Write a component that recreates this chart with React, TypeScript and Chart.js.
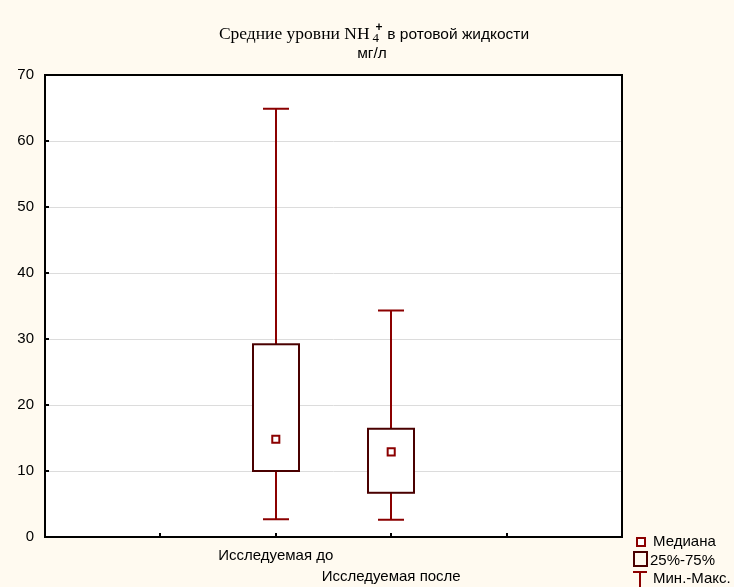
import React, { useEffect, useRef } from "react";
import { Chart, registerables } from "chart.js";

Chart.register(...registerables);

const categories = ["Исследуемая до", "Исследуемая после"];
const positions = [2, 3];
const medians = [14.8, 12.9];
const q1 = [10.0, 6.7];
const q3 = [29.2, 16.4];
const mins = [2.7, 2.6];
const maxs = [64.9, 34.3];
const yTicks = [0, 10, 20, 30, 40, 50, 60, 70];
const legendLabels = ["Медиана", "25%-75%", "Мин.-Макс."];

const WHISKER = "#8B0000";
const BOXC = "#4A0000";
const BG = "#FFFAF0";
const SANS = "'Liberation Sans', Arial, sans-serif";

const boxPlugin = {
  id: "boxPlugin",
  beforeDatasetsDraw(chart: any) {
    const { ctx, scales } = chart;
    const xs = scales.x;
    const ys = scales.y;
    ctx.save();
    for (let i = 0; i < positions.length; i++) {
      const cx = Math.round(xs.getPixelForValue(positions[i]));
      const yMax = ys.getPixelForValue(maxs[i]);
      const yMin = ys.getPixelForValue(mins[i]);
      const yQ1 = ys.getPixelForValue(q1[i]);
      const yQ3 = ys.getPixelForValue(q3[i]);
      ctx.strokeStyle = WHISKER;
      ctx.lineWidth = 2;
      ctx.beginPath();
      ctx.moveTo(cx, yMax);
      ctx.lineTo(cx, yQ3);
      ctx.moveTo(cx, yQ1);
      ctx.lineTo(cx, yMin);
      ctx.moveTo(cx - 13, yMax);
      ctx.lineTo(cx + 13, yMax);
      ctx.moveTo(cx - 13, yMin);
      ctx.lineTo(cx + 13, yMin);
      ctx.stroke();
      ctx.fillStyle = "#ffffff";
      ctx.fillRect(cx - 23, yQ3, 46, yQ1 - yQ3);
      ctx.strokeStyle = BOXC;
      ctx.lineWidth = 2;
      ctx.strokeRect(cx - 23, yQ3, 46, yQ1 - yQ3);
    }
    ctx.restore();
  },
  afterDraw(chart: any) {
    const { ctx, chartArea, scales } = chart;
    const { left, right, top, bottom } = chartArea;
    ctx.save();
    ctx.strokeStyle = "#000";
    ctx.lineWidth = 2;
    ctx.strokeRect(left, top, right - left, bottom - top);
    ctx.beginPath();
    for (const v of yTicks) {
      const y = Math.round(scales.y.getPixelForValue(v));
      ctx.moveTo(left, y);
      ctx.lineTo(left + 4, y);
    }
    for (let v = 1; v <= 4; v++) {
      const x = Math.round(scales.x.getPixelForValue(v));
      ctx.moveTo(x, bottom);
      ctx.lineTo(x, bottom - 4);
    }
    ctx.stroke();

    // title
    const cx = 374;
    const p1 = "Средние уровни NH";
    const p2 = "4";
    const p3 = "+";
    const p4 = " в ротовой жидкости";
    const f1 = "17.5px 'Liberation Serif', 'Times New Roman', serif";
    const fs = "13px 'Liberation Serif', 'Times New Roman', serif";
    const f4 = "15.5px " + SANS;
    ctx.font = f1;
    const w1 = ctx.measureText(p1).width;
    ctx.font = fs;
    const w2 = ctx.measureText(p2).width;
    ctx.font = f4;
    const w4 = ctx.measureText(p4).width;
    const total = w1 + 3 + w2 + 4 + w4;
    let x = cx - total / 2;
    const base = 39;
    ctx.fillStyle = "#000";
    ctx.textAlign = "left";
    ctx.textBaseline = "alphabetic";
    ctx.font = f1;
    ctx.fillText(p1, x, base);
    x += w1 + 3;
    ctx.font = fs;
    ctx.fillText(p2, x, base + 3);
    ctx.font = "bold 12px " + SANS;
    ctx.fillText(p3, x + 3, base - 8);
    x += w2 + 4;
    ctx.font = f4;
    ctx.fillText(p4, x, base);
    ctx.textAlign = "center";
    ctx.fillText("мг/л", 372, 58);

    // legend
    const lx = 636;
    ctx.textAlign = "left";
    ctx.textBaseline = "middle";
    ctx.font = "15px " + SANS;
    ctx.fillStyle = "#fff";
    ctx.fillRect(lx + 1, 538, 8, 8);
    ctx.strokeStyle = WHISKER;
    ctx.lineWidth = 2;
    ctx.strokeRect(lx + 1, 538, 8, 8);
    ctx.fillStyle = "#000";
    ctx.fillText(legendLabels[0], lx + 17, 542);
    ctx.strokeStyle = BOXC;
    ctx.strokeRect(lx - 2, 552, 13, 14);
    ctx.fillText(legendLabels[1], lx + 14, 561);
    ctx.strokeStyle = WHISKER;
    ctx.beginPath();
    ctx.moveTo(lx - 3, 572);
    ctx.lineTo(lx + 11, 572);
    ctx.moveTo(lx + 4, 572);
    ctx.lineTo(lx + 4, 590);
    ctx.stroke();
    ctx.fillText(legendLabels[2], lx + 17, 579);
    ctx.restore();
  },
};

export default function App() {
  const ref = useRef<HTMLCanvasElement | null>(null);
  useEffect(() => {
    document.body.style.margin = "0";
    const canvas = ref.current;
    if (!canvas) return;
    const chart = new Chart(canvas, {
      type: "scatter",
      data: {
        datasets: [
          {
            label: legendLabels[0],
            data: positions.map((p, i) => ({ x: p, y: medians[i] })),
            pointStyle: "rect",
            pointRadius: 5,
            pointBorderWidth: 2,
            pointBorderColor: WHISKER,
            pointBackgroundColor: "#fff",
          },
        ],
      },
      options: {
        animation: false,
        responsive: false,
        maintainAspectRatio: false,
        layout: { padding: { left: 0, top: 75, right: 112, bottom: 0 } },
        plugins: {
          legend: { display: false },
          tooltip: { enabled: false },
          title: { display: false },
        },
        scales: {
          x: {
            type: "linear",
            min: 0,
            max: 5,
            afterFit: (s: any) => {
              s.height = 50;
            },
            grid: { display: false, drawTicks: false },
            border: { display: false },
            ticks: {
              stepSize: 1,
              autoSkip: false,
              maxRotation: 0,
              padding: 8,
              color: "#000",
              font: { family: SANS, size: 15, lineHeight: 1.4 },
              callback: (v: any) => {
                const idx = positions.indexOf(Number(v));
                if (idx < 0) return "";
                return idx % 2 === 0 ? categories[idx] : ["", categories[idx]];
              },
            },
          },
          y: {
            min: 0,
            max: 70,
            afterFit: (s: any) => {
              s.width = 45;
            },
            afterBuildTicks: (s: any) => {
              s.ticks = yTicks.map((v) => ({ value: v }));
            },
            grid: { color: "#dcdcdc", drawTicks: false, lineWidth: 1 },
            border: { display: false },
            ticks: {
              padding: 11,
              color: "#000",
              font: { family: SANS, size: 15 },
            },
          },
        },
      },
      plugins: [
        {
          id: "bg",
          beforeDraw(chart: any) {
            const { ctx, chartArea } = chart;
            ctx.save();
            ctx.fillStyle = BG;
            ctx.fillRect(0, 0, chart.width, chart.height);
            ctx.fillStyle = "#fff";
            ctx.fillRect(
              chartArea.left,
              chartArea.top,
              chartArea.right - chartArea.left,
              chartArea.bottom - chartArea.top
            );
            ctx.restore();
          },
        },
        boxPlugin,
      ],
    });
    return () => chart.destroy();
  }, []);
  return (
    <div style={{ width: 734, height: 587, background: BG }}>
      <canvas ref={ref} width={734} height={587} style={{ display: "block" }} />
    </div>
  );
}
